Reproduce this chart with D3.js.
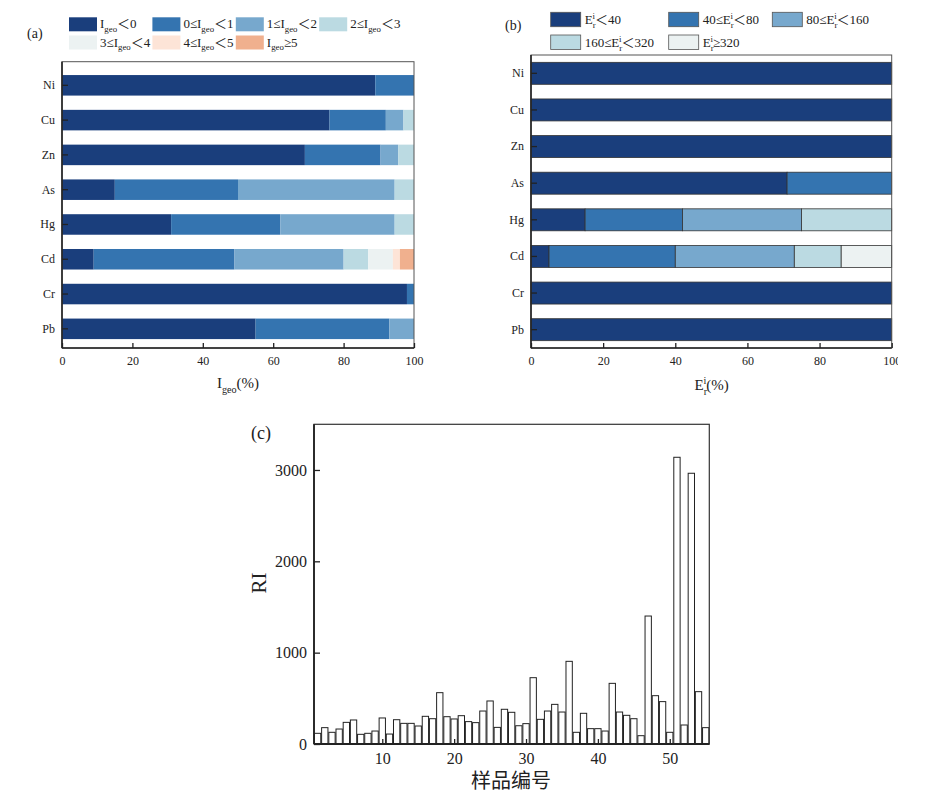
<!DOCTYPE html>
<html>
<head>
<meta charset="utf-8">
<script src="https://cdn.jsdelivr.net/npm/d3@7"></script>
<style>
body { margin: 0; background: #fff; }
svg text { font-family: "Liberation Serif", "Times New Roman", "Noto Sans CJK SC", serif; }
</style>
</head>
<body>
<svg id="fig" width="926" height="806"></svg>
<script>
// categorias
var metals = ["Ni", "Cu", "Zn", "As", "Hg", "Cd", "Cr", "Pb"];
var pctTicks = [0, 20, 40, 60, 80, 100];

// (a) Igeo, % of samples per class
var igeoLt0  = [89, 76, 69, 15, 31, 9, 98, 55];
var igeo0to1 = [11, 16, 21.5, 35, 31, 40, 2, 38];
var igeo1to2 = [0, 5, 5, 44.5, 32.5, 31, 0, 7];
var igeo2to3 = [0, 3, 4.5, 5.5, 5.5, 7, 0, 0];
var igeo3to4 = [0, 0, 0, 0, 0, 7, 0, 0];
var igeo4to5 = [0, 0, 0, 0, 0, 2, 0, 0];
var igeoGe5  = [0, 0, 0, 0, 0, 4, 0, 0];

// (b) Er, % of samples per class
var erLt40     = [100, 100, 100, 71, 15, 5, 100, 100];
var er40to80   = [0, 0, 0, 29, 27, 35, 0, 0];
var er80to160  = [0, 0, 0, 0, 33, 33, 0, 0];
var er160to320 = [0, 0, 0, 0, 25, 13, 0, 0];
var erGe320    = [0, 0, 0, 0, 0, 14, 0, 0];

// (c) RI por muestra 1..55
var sampleIds = d3.range(1, 56);
var riValues = [117, 179, 128, 164, 237, 263, 106, 117, 142, 285,
                109, 266, 226, 226, 197, 303, 277, 562, 299, 274,
                310, 245, 234, 361, 471, 182, 380, 347, 200, 223,
                726, 270, 361, 434, 350, 905, 128, 336, 168, 168,
                142, 664, 350, 314, 277, 91, 1401, 529, 464, 128,
                3139, 208, 2964, 573, 179];
var riTicks = [0, 1000, 2000, 3000];
var sampleTicks = [10, 20, 30, 40, 50];

var colors = ["#1a3e7c", "#3474b0", "#77a8cd", "#bbdae2", "#ecf2f2", "#fde4d7", "#f0b08e"];

var igeoLabels = [
    ["I", {sub: "geo"}, "\uFF1C0"],
    ["0\u2264I", {sub: "geo"}, "\uFF1C1"],
    ["1\u2264I", {sub: "geo"}, "\uFF1C2"],
    ["2\u2264I", {sub: "geo"}, "\uFF1C3"],
    ["3\u2264I", {sub: "geo"}, "\uFF1C4"],
    ["4\u2264I", {sub: "geo"}, "\uFF1C5"],
    ["I", {sub: "geo"}, "\u22655"]
];
var erLabels = [
    ["E", {sub: "r"}, {sup: "i", back: true}, "\uFF1C40"],
    ["40\u2264E", {sub: "r"}, {sup: "i", back: true}, "\uFF1C80"],
    ["80\u2264E", {sub: "r"}, {sup: "i", back: true}, "\uFF1C160"],
    ["160\u2264E", {sub: "r"}, {sup: "i", back: true}, "\uFF1C320"],
    ["E", {sub: "r"}, {sup: "i", back: true}, "\u2265320"]
];

var svg = d3.select("#fig");
svg.append("rect").attr("width", 926).attr("height", 806).attr("fill", "#fff");

// texto con subindices / superindices
function richText(g, parts, size) {
    var t = g.append("text").attr("font-size", size).attr("fill", "#222");
    var shift = 0;
    parts.forEach(function(p) {
        var s = t.append("tspan");
        if (typeof p === "string") {
            s.text(p).attr("dy", -shift);
            shift = 0;
        } else if (p.sub) {
            var d = size * 0.3;
            s.text(p.sub).attr("font-size", size * 0.68).attr("dy", d - shift);
            shift = d;
        } else if (p.sup) {
            var d2 = -size * 0.4;
            s.text(p.sup).attr("font-size", size * 0.68).attr("dy", d2 - shift);
            if (p.back) s.attr("dx", -size * 0.68 * 0.36);
            shift = d2;
        }
    });
    return t;
}

function styleAxis(g, size) {
    g.attr("font-size", size);
    g.select(".domain").remove();
    g.selectAll(".tick line").attr("stroke", "#222").attr("stroke-width", 1.3);
    g.selectAll(".tick text").attr("fill", "#222");
}

function drawStacked(g, series, cfg) {
    var x = d3.scaleLinear().domain([0, 100]).range([cfg.x0, cfg.x1]);
    var y = d3.scaleBand().domain(metals).range([cfg.y0, cfg.y1])
        .paddingInner(cfg.pi).paddingOuter(cfg.po).align(cfg.align);

    var rows = metals.map(function(m, i) {
        var r = {metal: m};
        series.forEach(function(s, k) { r["k" + k] = s[i]; });
        return r;
    });
    var keys = series.map(function(s, k) { return "k" + k; });
    var stacked = d3.stack().keys(keys)(rows);

    g.selectAll("g.layer").data(stacked).join("g")
        .attr("class", "layer")
        .attr("fill", function(d, i) { return colors[i]; })
        .selectAll("rect")
        .data(function(d) { return d.filter(function(e) { return e[1] - e[0] > 0; }); })
        .join("rect")
            .attr("x", function(d) { return x(d[0]); })
            .attr("width", function(d) { return x(d[1]) - x(d[0]); })
            .attr("y", function(d) { return y(d.data.metal); })
            .attr("height", y.bandwidth())
            .attr("stroke", cfg.stroke || "none")
            .attr("stroke-width", 0.8);

    // marco
    g.append("rect")
        .attr("x", cfg.x0).attr("y", cfg.y0)
        .attr("width", cfg.x1 - cfg.x0).attr("height", cfg.y1 - cfg.y0)
        .attr("fill", "none").attr("stroke", "#555").attr("stroke-width", 1);

    var xa = g.append("g")
        .attr("transform", "translate(0," + cfg.y1 + ")")
        .call(d3.axisBottom(x).tickValues(pctTicks).tickSizeInner(-5).tickSizeOuter(0).tickPadding(8));
    styleAxis(xa, 12);

    var ya = g.append("g")
        .attr("transform", "translate(" + cfg.x0 + ",0)")
        .call(d3.axisLeft(y).tickSizeInner(-6).tickSizeOuter(0).tickPadding(7));
    styleAxis(ya, 12);

    g.append("line").attr("x1", cfg.x0).attr("x2", cfg.x0).attr("y1", cfg.y0).attr("y2", cfg.y1)
        .attr("stroke", "#222").attr("stroke-width", 1.6);
    g.append("line").attr("x1", cfg.x0).attr("x2", cfg.x1).attr("y1", cfg.y1).attr("y2", cfg.y1)
        .attr("stroke", "#222").attr("stroke-width", 1.6);
}

// ---------- (a) ----------
var ga = svg.append("g");
drawStacked(ga, [igeoLt0, igeo0to1, igeo1to2, igeo2to3, igeo3to4, igeo4to5, igeoGe5],
    {x0: 62, x1: 414, y0: 61.7, y1: 348, pi: 0.41, po: 0.32, align: 0.6});

ga.append("text").attr("x", 27).attr("y", 38).attr("font-size", 14).attr("fill", "#222").text("(a)");

igeoLabels.forEach(function(lab, i) {
    var col = i % 4, row = Math.floor(i / 4);
    var bx = 69 + col * 83.4, by = row === 0 ? 17.3 : 35.5;
    ga.append("rect").attr("x", bx).attr("y", by).attr("width", 28).attr("height", 14)
        .attr("fill", colors[i]);
    richText(ga, lab, 13).attr("x", bx + 31).attr("y", by + 11);
});

richText(ga, ["I", {sub: "geo"}, "(%)"], 15)
    .attr("x", 238).attr("y", 388).attr("text-anchor", "middle");

// ---------- (b) ----------
var gbWrap = svg.append("svg").attr("width", 898).attr("height", 806);
var gb = gbWrap.append("g");
drawStacked(gb, [erLt40, er40to80, er80to160, er160to320, erGe320],
    {x0: 531, x1: 891.7, y0: 55, y1: 348, pi: 0.4, po: 0.2, align: 0.5, stroke: "#333"});

gb.append("text").attr("x", 505).attr("y", 30).attr("font-size", 14).attr("fill", "#222").text("(b)");

var erLegendX = [550.7, 668.7, 772.3, 550.7, 668.7];
erLabels.forEach(function(lab, i) {
    var bx = erLegendX[i], by = i < 3 ? 12.3 : 35;
    gb.append("rect").attr("x", bx).attr("y", by).attr("width", 30).attr("height", 14.4)
        .attr("fill", colors[i]).attr("stroke", "#555").attr("stroke-width", 0.8);
    richText(gb, lab, 13).attr("x", bx + 34).attr("y", by + 12);
});

richText(gb, ["E", {sub: "r"}, {sup: "i", back: true}, "(%)"], 15)
    .attr("x", 711.7).attr("y", 390).attr("text-anchor", "middle");

// ---------- (c) ----------
var gc = svg.append("g");
var cx0 = 314, cx1 = 709.3, cy0 = 424.3, cy1 = 744;
var xc = d3.scaleLinear().domain([0.5, 55.5]).range([cx0, cx1]);
var yc = d3.scaleLinear().domain([0, 3500]).range([cy1, cy0]);
var barW = (xc(2) - xc(1)) * 0.88;

gc.selectAll("rect.ri").data(riValues).join("rect")
    .attr("class", "ri")
    .attr("x", function(d, i) { return xc(sampleIds[i]) - barW / 2; })
    .attr("width", barW)
    .attr("y", function(d) { return yc(d); })
    .attr("height", function(d) { return yc(0) - yc(d); })
    .attr("fill", "#fff").attr("stroke", "#222").attr("stroke-width", 1);

gc.append("rect").attr("x", cx0).attr("y", cy0).attr("width", cx1 - cx0).attr("height", cy1 - cy0)
    .attr("fill", "none").attr("stroke", "#333").attr("stroke-width", 1.2);

var xca = gc.append("g").attr("transform", "translate(0," + cy1 + ")")
    .call(d3.axisBottom(xc).tickValues(sampleTicks).tickFormat(d3.format("d"))
        .tickSizeInner(-5).tickSizeOuter(0).tickPadding(9));
styleAxis(xca, 16);
var yca = gc.append("g").attr("transform", "translate(" + cx0 + ",0)")
    .call(d3.axisLeft(yc).tickValues(riTicks).tickFormat(d3.format("d"))
        .tickSizeInner(-6).tickSizeOuter(0).tickPadding(7));
styleAxis(yca, 16);

gc.append("line").attr("x1", cx0).attr("x2", cx0).attr("y1", cy0).attr("y2", cy1)
    .attr("stroke", "#222").attr("stroke-width", 1.8);
gc.append("line").attr("x1", cx0).attr("x2", cx1).attr("y1", cy1).attr("y2", cy1)
    .attr("stroke", "#222").attr("stroke-width", 1.8);

gc.append("text").attr("x", 251).attr("y", 439).attr("font-size", 18).attr("fill", "#222").text("(c)");
gc.append("text").attr("transform", "translate(266,583) rotate(-90)")
    .attr("text-anchor", "middle").attr("font-size", 21).attr("fill", "#222").text("RI");
gc.append("text").attr("x", 511).attr("y", 788).attr("text-anchor", "middle")
    .attr("font-size", 20).attr("fill", "#222").text("样品编号");
</script>
</body>
</html>
